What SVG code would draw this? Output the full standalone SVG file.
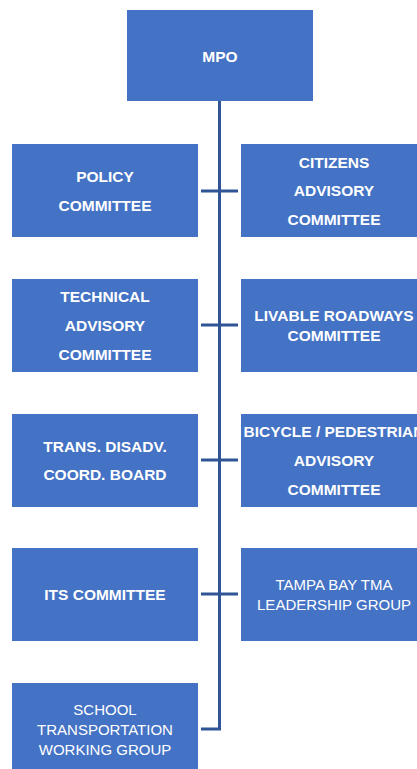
<svg xmlns="http://www.w3.org/2000/svg" width="417" height="769" viewBox="0 0 417 769">
<style>
.box{fill:#4472C4;}
.t{font-family:"Liberation Sans",Arial,sans-serif;font-size:15.5px;fill:#FFFFFF;text-anchor:middle;font-weight:bold;}
.r{font-weight:normal;font-size:15px;}
.c{stroke:#2F5597;stroke-width:3;fill:none;}
</style>
<rect width="417" height="769" fill="#FFFFFF"/>
<g id="connectors">
<path class="c" d="M219.5 101 V729 H201"/>
<path class="c" d="M201 191 H238 M201 325 H238 M201 460 H238 M201 594 H238"/>
</g>
<g id="mpo"><rect class="box" x="127" y="10" width="186" height="91"/><text class="t" x="220" y="61.5">MPO</text></g>
<g id="policy"><rect class="box" x="12" y="144" width="186" height="93"/><text class="t" x="105" y="181.5">POLICY</text><text class="t" x="105" y="210.5">COMMITTEE</text></g>
<g id="citizens"><rect class="box" x="241" y="144" width="186" height="93"/><text class="t" x="334" y="168">CITIZENS</text><text class="t" x="334" y="196">ADVISORY</text><text class="t" x="334" y="224.5">COMMITTEE</text></g>
<g id="technical"><rect class="box" x="12" y="279" width="186" height="93"/><text class="t" x="105" y="301.5">TECHNICAL</text><text class="t" x="105" y="331">ADVISORY</text><text class="t" x="105" y="359.5">COMMITTEE</text></g>
<g id="livable"><rect class="box" x="241" y="279" width="186" height="93"/><text class="t" x="334" y="320.5">LIVABLE ROADWAYS</text><text class="t" x="334" y="341">COMMITTEE</text></g>
<g id="trans"><rect class="box" x="12" y="414" width="186" height="93"/><text class="t" x="105" y="451.5">TRANS. DISADV.</text><text class="t" x="105" y="480">COORD. BOARD</text></g>
<g id="bicycle"><rect class="box" x="241" y="414" width="186" height="93"/><text class="t" x="334" y="437">BICYCLE / PEDESTRIAN</text><text class="t" x="334" y="466">ADVISORY</text><text class="t" x="334" y="494.5">COMMITTEE</text></g>
<g id="its"><rect class="box" x="12" y="548" width="186" height="93"/><text class="t" x="105" y="600">ITS COMMITTEE</text></g>
<g id="tampa"><rect class="box" x="241" y="548" width="186" height="93"/><text class="t r" x="334" y="589.5">TAMPA BAY TMA</text><text class="t r" x="334" y="610">LEADERSHIP GROUP</text></g>
<g id="school"><rect class="box" x="12" y="683" width="186" height="86"/><text class="t r" x="105" y="714.5">SCHOOL</text><text class="t r" x="105" y="735">TRANSPORTATION</text><text class="t r" x="105" y="754.5">WORKING GROUP</text></g>
</svg>
